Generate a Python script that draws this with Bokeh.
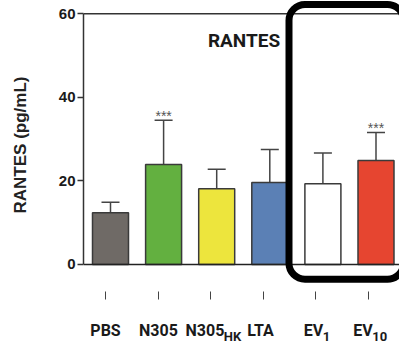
from bokeh.plotting import figure
from bokeh.models import (Range1d, FixedTicker, Span, Whisker, ColumnDataSource,
                          Label, BoxAnnotation, TeeHead, CustomJSTickFormatter, LinearAxis)
from bokeh.embed import file_html
from bokeh.resources import INLINE

# ---- data ----
categories = ["PBS", "N305", "N305HK", "LTA", "EV1", "EV10"]
base_labels = ["PBS", "N305", "N305", "LTA", "EV", "EV"]
sub_labels = ["HK", "1", "10"]
means = [12.4, 23.9, 18.1, 19.6, 19.3, 24.9]
upper_err = [14.9, 34.5, 22.8, 27.5, 26.7, 31.6]
sig = ["", "***", "", "", "", "***"]
colors = ["#6f6a66", "#63b040", "#ede53d", "#5b80b5", "#ffffff", "#e64530"]
y_ticks = [0, 20, 40, 60]

# ---- layout helpers (pixel -> bar units, 53.1 px per category) ----
xs = list(range(len(categories)))
PX = 1 / 53.1
tick_pos = [i * 0.9887 - 0.094 for i in xs]
base_pos = [(c - 110) * PX for c in (105, 158, 204.5, 260, 313, 362.5)]
sub_pos = [(c - 110) * PX for c in (232, 326, 379.3)]

FONT = "Roboto"
SANS = "Liberation Sans"

src = ColumnDataSource(dict(x=xs, mean=means, upper=upper_err, color=colors, sig=sig))

p = figure(width=399, height=346, output_backend="svg", toolbar_location=None,
           x_range=Range1d(-0.5085, 5.4426), y_range=Range1d(-6.0, 63.176),
           min_border_left=83, min_border_right=0, min_border_top=0, min_border_bottom=52)
p.outline_line_color = None
p.xgrid.grid_line_color = None
p.ygrid.grid_line_color = None
p.background_fill_color = "white"
p.border_fill_color = "white"

# baseline and top line
p.add_layout(Span(location=0, dimension="width", line_color="#222222", line_width=1.5))
p.add_layout(Span(location=60, dimension="width", line_color="#333333", line_width=1.5))

p.vbar(x="x", top="mean", width=0.678, source=src, fill_color="color",
       line_color="#3a3a3a", line_width=1.5)

p.add_layout(Whisker(base="x", upper="upper", lower="mean", source=src,
                     upper_head=TeeHead(size=18, line_color="#444444", line_width=1.5),
                     lower_head=None, line_color="#444444", line_width=1.5))

p.text(x="x", y="upper", text="sig", source=src, text_align="center",
       text_baseline="alphabetic", y_offset=-4.5, text_font_size="14px",
       text_color="#555555", text_font={"value": SANS})

# y axis
ya = p.yaxis[0]
ya.bounds = (0, 60)
ya.ticker = FixedTicker(ticks=y_ticks)
ya.minor_tick_line_color = None
ya.major_tick_in = 0
ya.major_tick_out = 6
ya.major_tick_line_color = "#333333"
ya.major_tick_line_width = 1.5
ya.axis_line_color = "#333333"
ya.axis_line_width = 1.5
ya.major_label_text_font = SANS
ya.major_label_text_font_style = "bold"
ya.major_label_text_font_size = "15px"
ya.major_label_text_color = "#1a1a1a"
ya.major_label_standoff = 2
ya.axis_label = "RANTES (pg/mL)"
ya.axis_label_text_font = SANS
ya.axis_label_text_font_style = "bold"
ya.axis_label_text_font_size = "17px"
ya.axis_label_text_color = "#222222"
ya.axis_label_standoff = 26

# x axis A: tick marks only
xa = p.xaxis[0]
xa.ticker = FixedTicker(ticks=tick_pos)
xa.formatter = CustomJSTickFormatter(code="return ''")
xa.major_label_text_font_size = "1px"
xa.major_label_standoff = 0
xa.minor_tick_line_color = None
xa.axis_line_color = None
xa.major_tick_in = -2
xa.major_tick_out = 10
xa.major_tick_line_color = "#444444"
xa.major_tick_line_width = 1

# x axis B: category names
xb = LinearAxis(ticker=FixedTicker(ticks=base_pos),
                formatter=CustomJSTickFormatter(args=dict(labels=base_labels),
                                                code="return labels[index]"))
xb.axis_line_color = None
xb.major_tick_line_color = None
xb.minor_tick_line_color = None
xb.major_tick_in = 0
xb.major_tick_out = 0
xb.major_label_standoff = 21
xb.major_label_text_font = FONT
xb.major_label_text_font_style = "bold"
xb.major_label_text_font_size = "16px"
xb.major_label_text_color = "#1a1a1a"
p.add_layout(xb, "below")

# x axis C: subscripts
xc = LinearAxis(ticker=FixedTicker(ticks=sub_pos),
                formatter=CustomJSTickFormatter(args=dict(labels=sub_labels),
                                                code="return labels[index]"))
xc.axis_line_color = None
xc.major_tick_line_color = None
xc.minor_tick_line_color = None
xc.major_tick_in = 0
xc.major_tick_out = 0
xc.major_label_standoff = -14
xc.major_label_text_font = FONT
xc.major_label_text_font_style = "bold"
xc.major_label_text_font_size = "13px"
xc.major_label_text_color = "#1a1a1a"
p.add_layout(xc, "below")

# panel title
p.add_layout(Label(x=2.514, y=53.53, text="RANTES", text_align="center",
                   text_baseline="middle", text_font=FONT, text_font_style="bold",
                   text_font_size="19px", text_color="#1a1a1a"))

# highlight box
p.add_layout(BoxAnnotation(left=3.3616, right=5.518, top=62.235, bottom=-3.53,
                           fill_color=None, fill_alpha=0, line_color="black",
                           line_alpha=1.0, line_width=7, border_radius=16))

open("out.html", "w").write(file_html(p, INLINE))
